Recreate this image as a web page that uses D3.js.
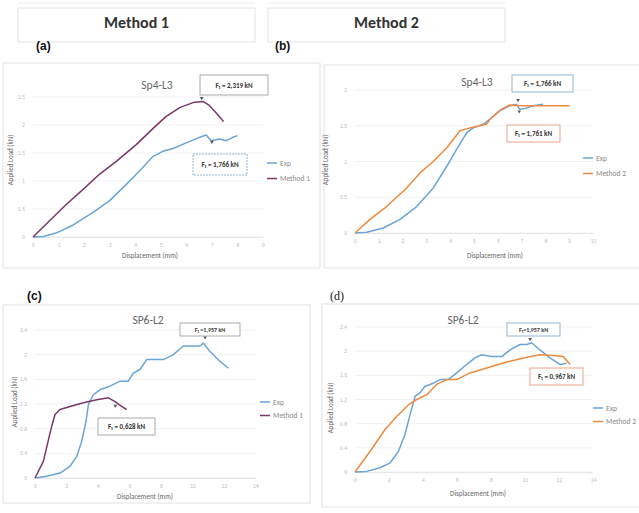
<!DOCTYPE html>
<html><head><meta charset="utf-8">
<script src="https://cdn.jsdelivr.net/npm/d3@7"></script>
<style>body{margin:0;background:#fff}svg{display:block}</style>
</head><body>
<script>
// ---- data ----
const headers = ["Method 1", "Method 2"];
const panelLabels = ["(a)", "(b)", "(c)", "(d)"];
const titles = ["Sp4-L3", "Sp4-L3", "SP6-L2", "SP6-L2"];
const legendNames = [["Exp", "Method 1"], ["Exp", "Method 2"], ["Exp", "Method 1"], ["Exp", "Method 2"]];
const annotations = [
  ["F\u2081 = 2,319 kN", "F\u2081 = 1,766 kN"],
  ["F\u2081 = 1,766 kN", "F\u2081 = 1,761 kN"],
  ["F\u2081 =1,957 kN", "F\u2081 = 0,628 kN"],
  ["F\u2081=1,957 kN", "F\u2081 = 0,967 kN"]
];
const xTicksA = [0,1,2,3,4,5,6,7,8,9];
const xTicksB = [0,1,2,3,4,5,6,7,8,9,10];
const xTicksCD = [0,2,4,6,8,10,12,14];
const yTicksA = [0,0.5,1,1.5,2,2.5];
const yTicksB = [0,0.5,1,1.5,2];
const yTicksCD = [0,0.4,0.8,1.2,1.6,2,2.4];

const expA = [[0,0],[0.4,0.01],[0.9,0.07],[1.56,0.21],[2.35,0.44],[3.0,0.65],[3.65,0.94],[4.17,1.18],[4.7,1.44],[5.08,1.53],[5.48,1.58],[6.0,1.68],[6.52,1.78],[6.78,1.82],[6.97,1.72],[7.3,1.75],[7.56,1.72],[7.82,1.78],[8.0,1.81]];
const m1A = [[0,0],[0.65,0.29],[1.3,0.58],[1.96,0.85],[2.6,1.12],[3.26,1.35],[4.04,1.65],[4.7,1.94],[5.2,2.15],[5.74,2.31],[6.26,2.4],[6.65,2.42],[6.9,2.35],[7.24,2.18],[7.46,2.06]];
const expB = [[0,0],[0.49,0.01],[1.19,0.07],[1.89,0.19],[2.59,0.37],[3.29,0.63],[3.85,0.93],[4.27,1.17],[4.69,1.40],[4.97,1.47],[5.38,1.52],[5.66,1.59],[6.08,1.71],[6.5,1.78],[6.78,1.80],[6.92,1.73],[7.13,1.74],[7.48,1.78],[7.9,1.80]];
const m2B = [[0,0],[0.63,0.19],[1.33,0.37],[2.17,0.63],[2.73,0.84],[3.29,1.0],[3.85,1.19],[4.41,1.43],[4.83,1.47],[5.24,1.5],[5.52,1.52],[5.73,1.61],[6.15,1.73],[6.5,1.79],[6.92,1.78],[7.62,1.78],[8.32,1.78],[9.02,1.78]];
const expC = [[0,0],[0.74,0.03],[1.59,0.08],[2.22,0.19],[2.65,0.35],[2.96,0.59],[3.24,0.92],[3.39,1.19],[3.7,1.35],[4.13,1.43],[4.76,1.49],[5.4,1.57],[5.93,1.57],[6.24,1.70],[6.67,1.76],[7.09,1.92],[7.51,1.92],[8.15,1.92],[8.78,2.0],[9.42,2.14],[9.95,2.14],[10.48,2.14],[10.69,2.19],[11.11,2.05],[11.75,1.89],[12.28,1.78]];
const m1C = [[0,0],[0.53,0.27],[1.06,0.84],[1.27,1.03],[1.59,1.11],[2.22,1.16],[3.07,1.22],[3.92,1.27],[4.66,1.30],[5.08,1.24],[5.5,1.16],[5.82,1.11]];
const expD = [[0,0],[0.69,0.01],[1.47,0.07],[2.06,0.15],[2.55,0.34],[2.94,0.62],[3.24,0.95],[3.53,1.25],[3.82,1.31],[4.12,1.42],[4.61,1.47],[5.0,1.53],[5.49,1.53],[5.98,1.64],[6.57,1.78],[7.06,1.89],[7.45,1.94],[8.04,1.91],[8.63,1.91],[9.12,2.02],[9.71,2.11],[10.1,2.11],[10.39,2.14],[10.88,2.02],[11.47,1.89],[12.06,1.78],[12.45,1.80]];
const m2D = [[0,0],[0.88,0.34],[1.76,0.70],[2.45,0.92],[3.14,1.11],[3.63,1.20],[4.22,1.28],[4.8,1.45],[5.39,1.53],[5.98,1.53],[6.76,1.64],[7.75,1.72],[8.92,1.82],[10.1,1.90],[10.88,1.94],[11.67,1.93],[12.25,1.91],[12.65,1.78]];
// peak markers [x, y] per panel
const peakMarks = [[[6.6,2.48],[7.0,1.7]], [[6.85,1.86],[6.9,1.7]], [[10.8,2.28],[5.1,1.17]], [[10.3,2.2]]];

const EXP = "#6aa4d8", M1 = "#7e3568", M2 = "#ee8a3e";

const svg = d3.select("body").append("svg").attr("width", 639).attr("height", 513)
  .style("font-family", "Calibri, 'Liberation Sans', 'Open Sans', sans-serif");

// header boxes
[[18,255],[268,505]].forEach(([a,b],i)=>{
  svg.append("rect").attr("x",a).attr("y",8).attr("width",b-a).attr("height",34)
    .attr("fill","#fff").attr("stroke","#e4e4e4");
  svg.append("line").attr("x1",a).attr("x2",b).attr("y1",3).attr("y2",3).attr("stroke","#ececec");
  svg.append("text").attr("x",(a+b)/2).attr("y",28).attr("text-anchor","middle")
    .attr("font-size",16).attr("font-weight","bold").attr("fill","#333").text(headers[i]);
});

const panels = [
  {frame:[3,63,317,205], lab:[36,50,"bold","sans-serif"], xr:[33,263], yr:[237,97], xt:xTicksA, yt:yTicksA,
   s:[[expA,EXP],[m1A,M1]], title:[157,89], ann:[[200,75,68,20,"#aaa",false],[193,154,54,21,"#8fb4d8",true]],
   leg:[267,163], xl:[150,258], yl:[13,160]},
  {frame:[324,65,320,203], lab:[275,50,"bold","sans-serif"], xr:[355,593], yr:[233,90], xt:xTicksB, yt:yTicksB,
   s:[[expB,EXP],[m2B,M2]], title:[477,86], ann:[[512,75,61,17,"#8fb4d8",false],[507,125,53,17,"#e9a38a",false]],
   leg:[583,158], xl:[495,258], yl:[328,160]},
  {frame:[3,305,307,198], lab:[27,300,"bold","sans-serif"], xr:[35,255.5], yr:[478,330], xt:xTicksCD, yt:yTicksCD,
   s:[[expC,EXP],[m1C,M1]], title:[148,324], ann:[[180,323,60,13,"#aaa",false],[98,418,57,17,"#aaa",false]],
   leg:[260,402], xl:[145,499], yl:[17,402]},
  {frame:[322,304,320,203], lab:[330,300,"normal","'Liberation Serif', serif"], xr:[355,593], yr:[472,327], xt:xTicksCD, yt:yTicksCD,
   s:[[expD,EXP],[m2D,M2]], title:[463,324], ann:[[507,323,53,13,"#8fb4d8",false],[530,368,53,17,"#e9a38a",false]],
   leg:[593,408], xl:[478,496], yl:[333,408]}
];

panels.forEach((p,i)=>{
  const g = svg.append("g");
  g.append("rect").attr("x",p.frame[0]).attr("y",p.frame[1]).attr("width",p.frame[2]).attr("height",p.frame[3])
    .attr("fill","#fff").attr("stroke","#e2e2e2");
  svg.append("text").attr("x",p.lab[0]).attr("y",p.lab[1]).attr("font-size",12).attr("font-weight",p.lab[2])
    .style("font-family",p.lab[3]).attr("fill","#111").text(panelLabels[i]);
  const x = d3.scaleLinear().domain([p.xt[0], p.xt[p.xt.length-1]]).range(p.xr);
  const y = d3.scaleLinear().domain([p.yt[0], p.yt[p.yt.length-1]]).range(p.yr);
  // gridlines
  g.append("g").selectAll("line").data(p.yt).join("line")
    .attr("x1",p.xr[0]).attr("x2",p.xr[1]).attr("y1",d=>y(d)).attr("y2",d=>y(d))
    .attr("stroke","#f1f1f1");
  // axes
  const ax = g.append("g").attr("transform",`translate(0,${p.yr[0]})`)
    .call(d3.axisBottom(x).tickValues(p.xt).tickSize(0).tickPadding(6).tickFormat(d3.format("")));
  ax.select(".domain").attr("stroke","#e6e6e6");
  ax.selectAll("text").attr("font-size",5).attr("fill","#bbb");
  const ay = g.append("g").attr("transform",`translate(${p.xr[0]},0)`)
    .call(d3.axisLeft(y).tickValues(p.yt).tickSize(0).tickPadding(8).tickFormat(d3.format("")));
  ay.select(".domain").remove();
  ay.selectAll("text").attr("font-size",5).attr("fill","#bbb");
  // series
  const line = d3.line().x(d=>x(d[0])).y(d=>y(d[1]));
  p.s.forEach(([data,c])=>{
    g.append("path").datum(data).attr("d",line).attr("fill","none").attr("stroke",c)
      .attr("stroke-width",1.5).attr("stroke-linejoin","round");
  });
  // small peak markers
  g.selectAll(".pk").data(peakMarks[i]).join("path").attr("class","pk")
    .attr("d",d3.symbol(d3.symbolTriangle,6))
    .attr("transform",d=>`translate(${x(d[0])},${y(d[1])}) rotate(180)`).attr("fill","#555");
  // title
  g.append("text").attr("x",p.title[0]).attr("y",p.title[1]).attr("text-anchor","middle")
    .attr("font-size",11.5).attr("fill","#666").text(titles[i]);
  // annotation boxes
  p.ann.forEach((a,k)=>{
    g.append("rect").attr("x",a[0]).attr("y",a[1]).attr("width",a[2]).attr("height",a[3])
      .attr("fill","#fff").attr("stroke",a[4]).attr("stroke-dasharray",a[5]?"2,1":null);
    g.append("text").attr("x",a[0]+a[2]/2).attr("y",a[1]+a[3]/2+2.5).attr("text-anchor","middle")
      .attr("font-size",a[3]>15?7:6).attr("font-weight","bold").attr("fill","#333").text(annotations[i][k]);
  });
  // legend
  legendNames[i].forEach((n,k)=>{
    const ly = p.leg[1] + k*(i<2?15.5:13.5);
    g.append("line").attr("x1",p.leg[0]).attr("x2",p.leg[0]+10).attr("y1",ly).attr("y2",ly)
      .attr("stroke",p.s[k][1]).attr("stroke-width",1.5);
    g.append("text").attr("x",p.leg[0]+13).attr("y",ly+2.5).attr("font-size",7.5).attr("fill","#888").text(n);
  });
  // axis titles
  g.append("text").attr("x",p.xl[0]).attr("y",p.xl[1]).attr("text-anchor","middle")
    .attr("font-size",7).attr("fill","#666").text("Displacement (mm)");
  g.append("text").attr("transform",`translate(${p.yl[0]},${p.yl[1]}) rotate(-90)`).attr("text-anchor","middle")
    .attr("font-size",7).attr("fill","#666").text("Applied Load (kN)");
});
</script>
</body></html>
